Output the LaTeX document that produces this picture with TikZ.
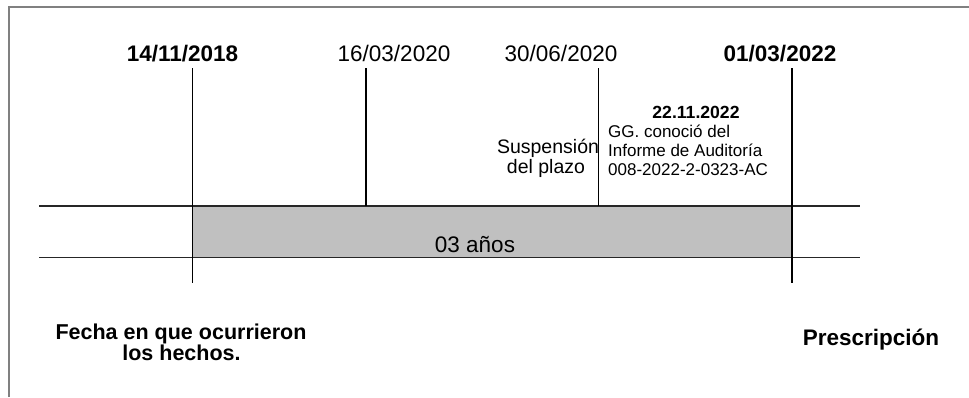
\documentclass[tikz,border=0pt]{standalone}
\usepackage{fontspec}
\setmainfont{Liberation Sans}
\begin{document}
\begin{tikzpicture}[x=1pt,y=-1pt,
  lbl/.style={inner sep=0pt,anchor=base},
  datebold/.style={lbl,font=\fontsize{22.5}{26}\selectfont\bfseries},
  datereg/.style={lbl,font=\fontsize{22.5}{26}\selectfont},
  midtxt/.style={lbl,font=\fontsize{19.5}{22}\selectfont},
  smalltxt/.style={lbl,anchor=base west,font=\fontsize{17}{19}\selectfont},
  tick/.style={draw=black,line width=1.2pt},
  hline/.style={draw=black!85,line width=1.7pt},
  framel/.style={draw=black!50,line width=2pt}]
\useasboundingbox (0,0) rectangle (969,397);
% frame
\coordinate (fa) at (9,397);
\coordinate (fb) at (9,7);
\coordinate (fc) at (969,7);
\draw[framel] (fa) -- (fb) -- (fc);
% gray band
\fill[fill={rgb,255:red,192;green,192;blue,192}] (193,206) rectangle (792,257.5);
% horizontal lines
\coordinate (hl1) at (39,206);
\coordinate (hr1) at (860,206);
\coordinate (hl2) at (39,257.5);
\coordinate (hr2) at (860,257.5);
\draw[hline] (hl1) -- (hr1);
\draw[hline] (hl2) -- (hr2);
% vertical ticks
\coordinate (t1) at (192.5,68);  \coordinate (b1) at (192.5,283);
\coordinate (t2) at (366,68);    \coordinate (b2) at (366,206);
\coordinate (t3) at (598.5,68);  \coordinate (b3) at (598.5,206);
\coordinate (t4) at (792,68);    \coordinate (b4) at (792,283);
\draw[tick] (t1) -- (b1);
\draw[tick] (t2) -- (b2);
\draw[tick] (t3) -- (b3);
\draw[tick] (t4) -- (b4);
% dates
\node[datebold] (d1) at (182.5,61) {14/11/2018};
\node[datereg]  (d2) at (394,61) {16/03/2020};
\node[datereg]  (d3) at (561,61) {30/06/2020};
\node[datebold] (d4) at (780,61) {01/03/2022};
% middle texts
\node[midtxt] (s1) at (548,153) {Suspensión};
\node[midtxt] (s2) at (546,173) {del plazo};
\node[lbl,font=\fontsize{17.6}{20}\selectfont\bfseries] (g0) at (696,118) {22.11.2022};
\node[smalltxt] (g1) at (608,137) {GG. conoció del};
\node[smalltxt] (g2) at (608,156) {Informe de Auditoría};
\node[smalltxt] (g3) at (608,175) {008-2022-2-0323-AC};
% band label
\node[datereg] (yrs) at (475,252) {03 años};
% bottom labels
\node[lbl,font=\fontsize{21.5}{24}\selectfont\bfseries] (f1) at (181,339) {Fecha en que ocurrieron};
\node[lbl,font=\fontsize{21.5}{24}\selectfont\bfseries] (f2) at (181.5,360) {los hechos.};
\node[datebold] (pr) at (871,345) {Prescripción};
\end{tikzpicture}
\end{document}
